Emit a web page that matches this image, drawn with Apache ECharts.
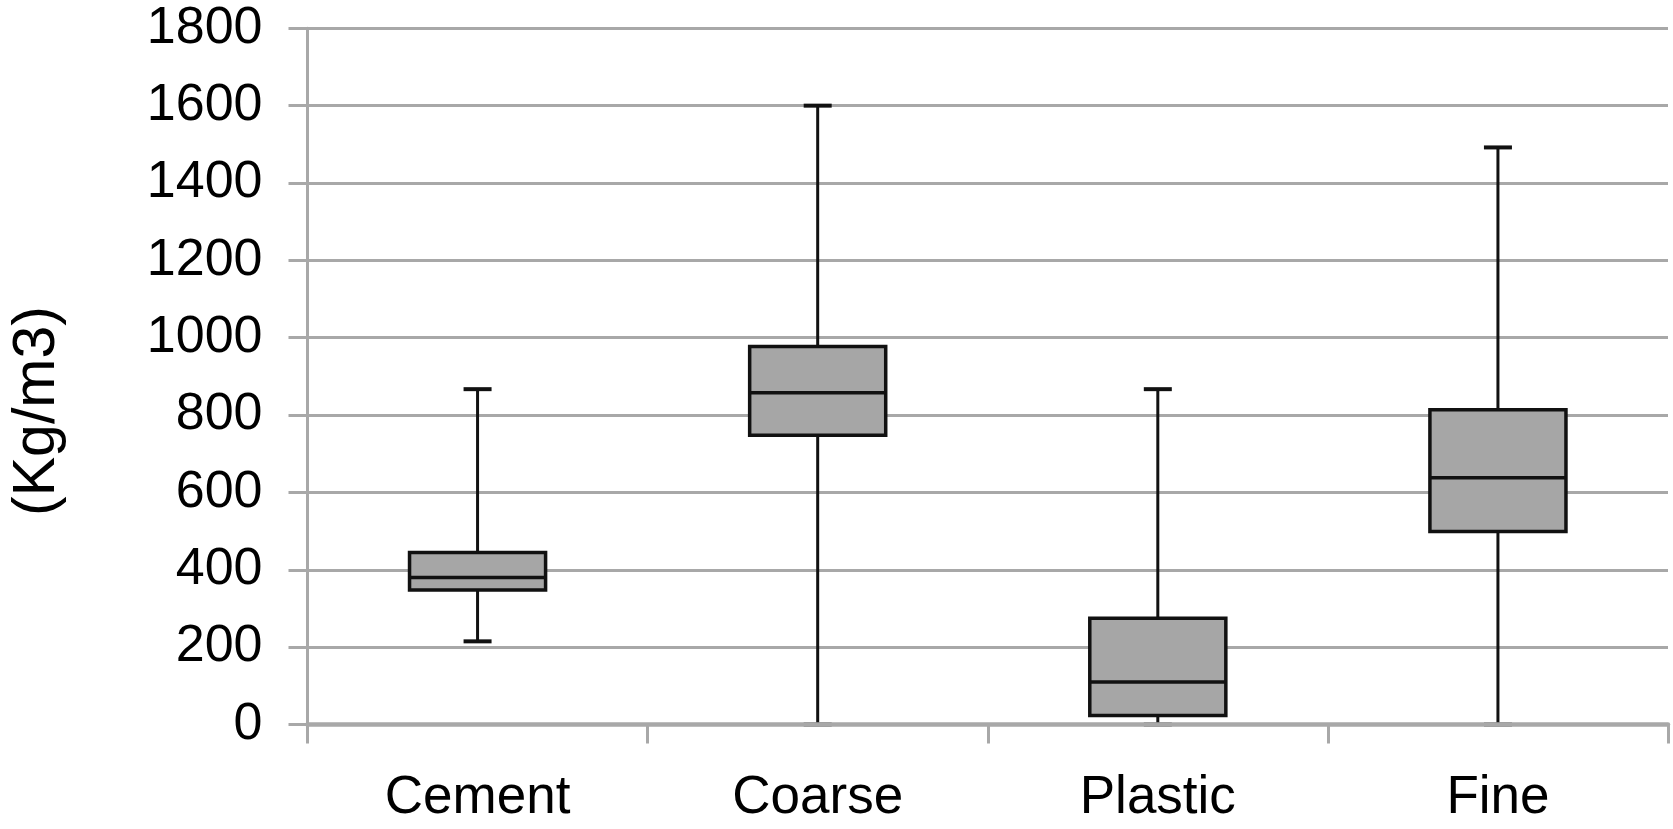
<!DOCTYPE html>
<html>
<head>
<meta charset="utf-8">
<script src="https://cdn.jsdelivr.net/npm/echarts@6/dist/echarts.min.js"></script>
<style>
html,body{margin:0;padding:0;background:#fff;}
#chart{width:1673px;height:829px;}
</style>
</head>
<body>
<div id="chart"></div>
<script>
const categories = ['Cement', 'Coarse', 'Plastic', 'Fine'];
const minValues = [215, 0, 0, 0];
const q1Values = [348, 748, 23, 499];
const medianValues = [380, 858, 110, 638];
const q3Values = [445, 977, 275, 814];
const maxValues = [867, 1600, 867, 1492];
const yTicks = { min: 0, max: 1800, interval: 200 };
const yTitle = '(Kg/m3)';

const boxData = categories.map((c, i) => [i, minValues[i], q1Values[i], medianValues[i], q3Values[i], maxValues[i]]);

const chart = echarts.init(document.getElementById('chart'), null, { renderer: 'canvas' });
const FONT = '"Liberation Sans", Arial, Helvetica, sans-serif';
const GRID = '#a8a8a8';
const INK = '#111111';

function renderBox(params, api) {
  const i = api.value(0);
  const x = api.coord([i, 0])[0];
  const band = api.size([1, 0])[0];
  const bw = band * 0.40;
  const capW = 28;
  const yMin = api.coord([i, api.value(1)])[1];
  const yQ1 = api.coord([i, api.value(2)])[1];
  const yMed = api.coord([i, api.value(3)])[1];
  const yQ3 = api.coord([i, api.value(4)])[1];
  const yMax = api.coord([i, api.value(5)])[1];
  const lineStyle = { stroke: INK, lineWidth: 3 };
  const capStyle = { stroke: INK, lineWidth: 4 };
  return {
    type: 'group',
    children: [
      { type: 'line', shape: { x1: x, y1: yQ3, x2: x, y2: yMax }, style: lineStyle },
      { type: 'line', shape: { x1: x, y1: yQ1, x2: x, y2: yMin }, style: lineStyle },
      { type: 'line', shape: { x1: x - capW / 2, y1: yMax, x2: x + capW / 2, y2: yMax }, style: capStyle },
      { type: 'line', shape: { x1: x - capW / 2, y1: yMin, x2: x + capW / 2, y2: yMin }, style: capStyle },
      { type: 'rect', shape: { x: x - bw / 2, y: yQ3, width: bw, height: yQ1 - yQ3 }, style: { fill: '#a6a6a6', stroke: INK, lineWidth: 3.5 } },
      { type: 'line', shape: { x1: x - bw / 2, y1: yMed, x2: x + bw / 2, y2: yMed }, style: { stroke: INK, lineWidth: 3.5 } }
    ]
  };
}

chart.setOption({
  animation: false,
  backgroundColor: '#ffffff',
  grid: { left: 307.5, right: 5, top: 28.3, bottom: 104.5, containLabel: false },
  xAxis: {
    type: 'category',
    data: categories,
    boundaryGap: true,
    z: 10,
    axisLine: { show: true, lineStyle: { color: GRID, width: 4.5 } },
    axisTick: { show: true, length: 19, alignWithLabel: false, lineStyle: { color: GRID, width: 3 } },
    axisLabel: { color: '#000', fontSize: 53, fontFamily: FONT, margin: 47 },
    splitLine: { show: false }
  },
  yAxis: {
    type: 'value',
    min: yTicks.min,
    max: yTicks.max,
    interval: yTicks.interval,
    axisLine: { show: true, lineStyle: { color: GRID, width: 3 } },
    axisTick: { show: true, length: 19, lineStyle: { color: GRID, width: 3 } },
    axisLabel: { color: '#000', fontSize: 52, fontFamily: FONT, margin: 45, formatter: v => String(v) },
    splitLine: { show: true, lineStyle: { color: GRID, width: 3 } }
  },
  graphic: [{
    type: 'text',
    x: 38,
    y: 411,
    rotation: Math.PI / 2,
    style: { text: yTitle, fill: '#000', font: '59px ' + FONT, textAlign: 'center', textVerticalAlign: 'middle' }
  }],
  series: [{
    type: 'custom',
    renderItem: renderBox,
    data: boxData,
    encode: { x: 0, y: [1, 2, 3, 4, 5] },
    z: 2
  }]
});
</script>
</body>
</html>
